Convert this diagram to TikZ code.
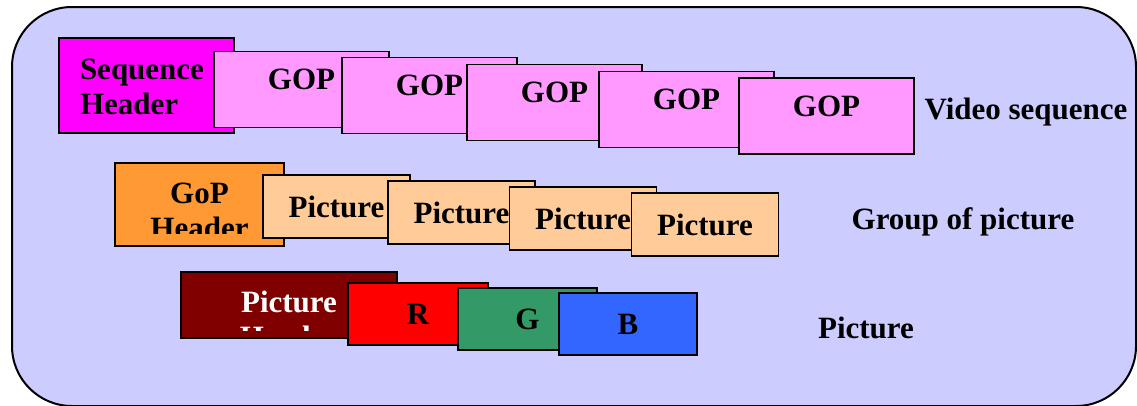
\documentclass[tikz,border=0pt]{standalone}
\usepackage{fontspec}
\setmainfont{Liberation Serif}
\usetikzlibrary{positioning}

\definecolor{bgblue}{HTML}{CCCCFF}
\definecolor{seqmag}{HTML}{FF00FF}
\definecolor{goppink}{HTML}{FF99FF}
\definecolor{hdrorange}{HTML}{FF9933}
\definecolor{picpeach}{HTML}{FFCC99}
\definecolor{hdrred}{HTML}{800000}
\definecolor{rred}{HTML}{FF0000}
\definecolor{ggreen}{HTML}{339966}
\definecolor{bblue}{HTML}{3366FF}

\begin{document}
\begin{tikzpicture}
	[x=1pt,y=-1pt,
	blk/.style={draw, line width=1.6pt, inner sep=0pt},
	txt/.style={font=\fontsize{31}{35}\selectfont\bfseries, inner sep=0pt}]
	\useasboundingbox (0,0) rectangle (1137,405);
	\draw[fill=bgblue, line width=2pt, rounded corners=60pt] (12,7) rectangle (1136,406);
	
	% video sequence
	\node[blk, fill=seqmag, minimum width=175pt, minimum height=95pt] (seq) at (146.5,85.5) {};
	\node[txt, align=left] (seqt) at (142,86.5) {Sequence\\Header};
	\foreach \n/\x/\y in {1/301.5/89.5,2/429.5/95.5,3/554.5/102.5,4/686.5/109.5,5/826.5/116}
	{
		\node[blk, fill=goppink, minimum width=175pt, minimum height=76pt] (gop\n) at (\x,\y) {};
		\node[txt] (gopt\n) at (\x,\y-10) {GOP};
	}
	\node[txt] (vs) at (1026,112) {Video sequence};
	
	% group of picture
	\node[blk, fill=hdrorange, minimum width=169pt, minimum height=83pt] (goph) at (199.5,204.5) {};
	\begin{scope}
		\clip (115,163) rectangle (284,233);
		\node[txt, align=center] (gopht) at (199.5,211) {GoP\\Header};
	\end{scope}
	\foreach \n/\x/\y in {1/336.5/206.5,2/461.5/212.5,3/583/218.5,4/705/224.5}
	{
		\node[blk, fill=picpeach, minimum width=147pt, minimum height=63pt] (pic\n) at (\x,\y) {};
		\node[txt] (pict\n) at (\x,\y) {Picture};
	}
	\node[txt] (gp) at (963,222) {Group of picture};
	
	% picture
	\node[blk, fill=hdrred, minimum width=216pt, minimum height=66pt] (pich) at (289,305) {};
	\begin{scope}
		\clip (181,272) rectangle (397,330);
		\node[txt, text=white, align=center] (picht) at (289,319.5) {Picture\\Header};
	\end{scope}
	\foreach \n/\c/\x/\y/\w in {R/rred/418/314/140,G/ggreen/527.5/319/139,B/bblue/628/324/138}
	{
		\node[blk, fill=\c, minimum width=\w pt, minimum height=62pt] (col\n) at (\x,\y) {};
		\node[txt] (colt\n) at (\x,\y) {\n};
	}
	\node[txt] (pl) at (866,328) {Picture};
\end{tikzpicture}
\end{document}
